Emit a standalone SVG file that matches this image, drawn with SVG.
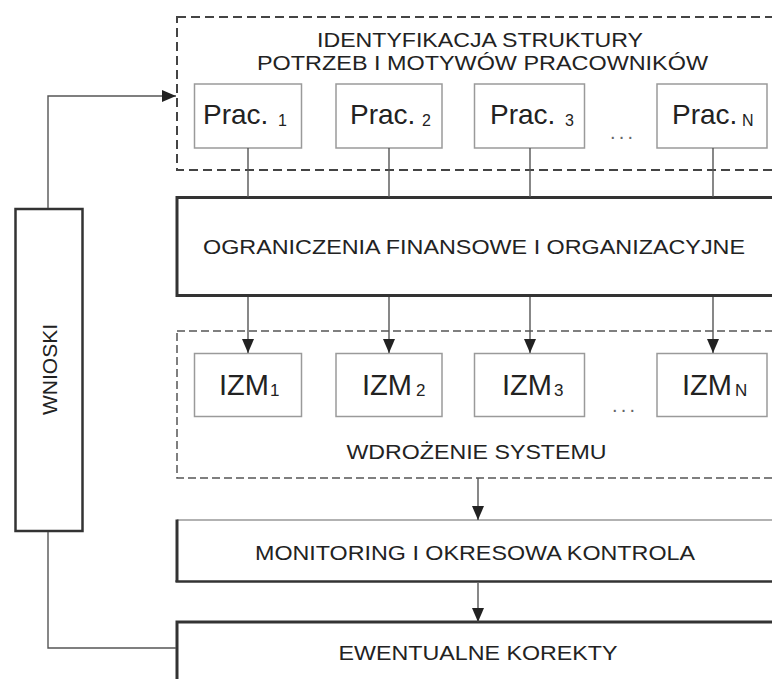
<svg xmlns="http://www.w3.org/2000/svg" width="772" height="679" viewBox="0 0 772 679">
<style>
.lbl{font-family:"Liberation Sans",Arial,sans-serif;fill:#222;font-size:20px}
.big{font-family:"Liberation Sans",Arial,sans-serif;fill:#222;font-size:28px}
.izm{font-family:"Liberation Sans",Arial,sans-serif;fill:#222;font-size:29px}
.sub{font-size:16px}
.isub{font-size:17px}
.dash1{fill:none;stroke:#444;stroke-width:2;stroke-dasharray:9 5}
.dash2{fill:none;stroke:#555;stroke-width:1.5;stroke-dasharray:8 4}
.small{fill:#fff;stroke:#9a9a9a;stroke-width:1.5}
.thick{fill:#fff;stroke:#333;stroke-width:3}
.conn{fill:none;stroke:#555;stroke-width:1.4}
.dots{font-family:"Liberation Sans",Arial,sans-serif;fill:#666;font-size:20px}
</style>
<defs>
<marker id="arr" viewBox="0 0 14 12" refX="14" refY="6" markerWidth="14" markerHeight="12" markerUnits="userSpaceOnUse" orient="auto">
<path d="M0,0 L14,6 L0,12 z" fill="#222"/>
</marker>
</defs>
<rect width="772" height="679" fill="#fff"/>

<g id="identyfikacja">
<rect class="dash1" x="177" y="17" width="620" height="153"/>
<text class="lbl" x="317" y="47" textLength="326" lengthAdjust="spacingAndGlyphs">IDENTYFIKACJA STRUKTURY</text>
<text class="lbl" x="257" y="69.5" textLength="451" lengthAdjust="spacingAndGlyphs">POTRZEB I MOTYWÓW PRACOWNIKÓW</text>
</g>

<g id="prac1"><rect class="small" x="194.5" y="84" width="107" height="64"/><text class="big" x="203" y="123.5">Prac.<tspan class="sub" x="278" y="125.5">1</tspan></text></g>
<g id="prac2"><rect class="small" x="336" y="84" width="106" height="64"/><text class="big" x="350" y="123.5">Prac.<tspan class="sub" x="422" y="125.5">2</tspan></text></g>
<g id="prac3"><rect class="small" x="474.5" y="84" width="110" height="64"/><text class="big" x="490" y="123.5">Prac.<tspan class="sub" x="565" y="125.5">3</tspan></text></g>
<g id="pracN"><rect class="small" x="657" y="84" width="110" height="64"/><text class="big" x="672" y="123.5">Prac.<tspan class="sub" x="742" y="125.5">N</tspan></text></g>
<text class="dots" x="610" y="139" textLength="23" lengthAdjust="spacing">...</text>

<g id="ograniczenia">
<rect class="thick" x="177" y="197.5" width="620" height="98"/>
<text class="lbl" x="203" y="254" textLength="542" lengthAdjust="spacingAndGlyphs">OGRANICZENIA FINANSOWE I ORGANIZACYJNE</text>
</g>

<g id="wdrozenie">
<rect class="dash2" x="177" y="331" width="620" height="147"/>
<text class="lbl" x="346.5" y="458.5" textLength="260" lengthAdjust="spacingAndGlyphs">WDROŻENIE SYSTEMU</text>
</g>

<g id="izm1"><rect class="small" x="194.5" y="353.5" width="107" height="63"/><text class="izm" x="219" y="394.5">IZM<tspan class="isub" x="270" y="395.5">1</tspan></text></g>
<g id="izm2"><rect class="small" x="336" y="353.5" width="106" height="63"/><text class="izm" x="362" y="394.5">IZM<tspan class="isub" x="416" y="395.5">2</tspan></text></g>
<g id="izm3"><rect class="small" x="474.5" y="353.5" width="110" height="63"/><text class="izm" x="502" y="394.5">IZM<tspan class="isub" x="554" y="395.5">3</tspan></text></g>
<g id="izmN"><rect class="small" x="657" y="353.5" width="110" height="63"/><text class="izm" x="682" y="394.5">IZM<tspan class="isub" x="735" y="395.5">N</tspan></text></g>
<text class="dots" x="612" y="412" textLength="23" lengthAdjust="spacing">...</text>

<g id="monitoring">
<rect x="177" y="520" width="620" height="62" fill="#fff" stroke="none"/>
<line x1="177" y1="520" x2="797" y2="520" stroke="#999" stroke-width="1.5"/>
<line x1="177" y1="519.5" x2="177" y2="582" stroke="#333" stroke-width="3"/>
<line x1="175.5" y1="581.5" x2="797" y2="581.5" stroke="#333" stroke-width="2.5"/>
<text class="lbl" x="255" y="560" textLength="440" lengthAdjust="spacingAndGlyphs">MONITORING I OKRESOWA KONTROLA</text>
</g>

<g id="ewentualne">
<rect class="thick" x="177" y="622" width="620" height="80"/>
<text class="lbl" x="338.5" y="660" textLength="279" lengthAdjust="spacingAndGlyphs">EWENTUALNE KOREKTY</text>
</g>

<g id="wnioski">
<rect x="15.5" y="209" width="67" height="322" fill="#fff" stroke="#333" stroke-width="2.5"/>
<text class="lbl" transform="translate(57,415) rotate(-90)" x="0" y="0" textLength="91" lengthAdjust="spacingAndGlyphs">WNIOSKI</text>
</g>

<g id="connectors">
<path class="conn" d="M48,208 V96 H176" marker-end="url(#arr)"/>
<path class="conn" d="M48,532 V648 H176"/>
<line class="conn" x1="248" y1="148" x2="248" y2="197"/>
<line class="conn" x1="389" y1="148" x2="389" y2="197"/>
<line class="conn" x1="530" y1="148" x2="530" y2="197"/>
<line class="conn" x1="713" y1="148" x2="713" y2="197"/>
<line class="conn" x1="248" y1="297" x2="248" y2="353" marker-end="url(#arr)"/>
<line class="conn" x1="389" y1="297" x2="389" y2="353" marker-end="url(#arr)"/>
<line class="conn" x1="530" y1="297" x2="530" y2="353" marker-end="url(#arr)"/>
<line class="conn" x1="713" y1="297" x2="713" y2="353" marker-end="url(#arr)"/>
<line class="conn" x1="478" y1="478" x2="478" y2="520" marker-end="url(#arr)"/>
<line class="conn" x1="478" y1="583" x2="478" y2="622" marker-end="url(#arr)"/>
</g>
</svg>
